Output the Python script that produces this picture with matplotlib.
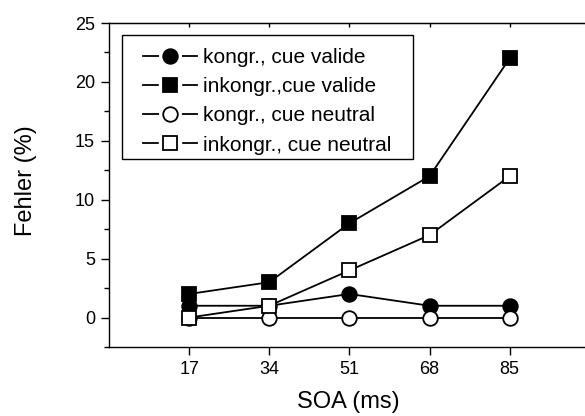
import matplotlib
matplotlib.use("Agg")
import matplotlib.pyplot as plt
from matplotlib.ticker import MultipleLocator, FixedLocator
from matplotlib.lines import Line2D
from matplotlib.patches import Rectangle
from matplotlib.legend_handler import HandlerTuple

plt.rcParams['font.family'] = ['Liberation Sans', 'DejaVu Sans']

soa = [17, 34, 51, 68, 85]
kongr_valide = [1, 1, 2, 1, 1]
inkongr_valide = [2, 3, 8, 12, 22]
kongr_neutral = [0, 0, 0, 0, 0]
inkongr_neutral = [0, 1, 4, 7, 12]
labels = ["kongr., cue valide", "inkongr.,cue valide",
          "kongr., cue neutral", "inkongr., cue neutral"]

fig = plt.figure(figsize=(5.85, 4.16), dpi=100)
ax = fig.add_axes([0.1863, 0.1659, 0.822, 0.7788])

ms = 10.5
lw = 1.3
styles = [('o', 'black'), ('s', 'black'), ('o', 'white'), ('s', 'white')]
series = [kongr_valide, inkongr_valide, kongr_neutral, inkongr_neutral]
handles = []
for (mk, fc), ys, lab in zip(styles, series, labels):
    ax.plot(soa, ys, '-', marker=mk, color='black', mfc=fc, mec='black', mew=1.3,
            ms=ms, lw=lw, clip_on=False, zorder=3)
    h_line = Line2D([], [], color='black', lw=lw)
    h_halo = Line2D([], [], ls='none', marker=mk, mfc='white', mec='white', ms=ms + 5)
    h_mark = Line2D([], [], ls='none', marker=mk, mfc=fc, mec='black', mew=1.3, ms=ms)
    handles.append((h_line, h_halo, h_mark))

ax.set_xlim(0, 102)
ax.set_ylim(-2.5, 25)
ax.xaxis.set_major_locator(FixedLocator(soa))
ax.yaxis.set_major_locator(MultipleLocator(5))
ax.yaxis.set_minor_locator(MultipleLocator(2.5))
ax.tick_params(axis='both', which='major', direction='out', length=6, width=1,
               labelsize=13, pad=4)
ax.tick_params(axis='y', which='minor', direction='out', length=3.5, width=1)

# inward ticks on top and right
secx = ax.secondary_xaxis('top')
secx.xaxis.set_major_locator(FixedLocator(soa))
secx.tick_params(direction='in', length=3, width=1, labeltop=False)
secy = ax.secondary_yaxis('right')
secy.yaxis.set_major_locator(MultipleLocator(5))
secy.tick_params(direction='in', length=3, width=1, labelright=False)

for s in ax.spines.values():
    s.set_linewidth(1)

ax.set_xlabel("SOA (ms)", fontsize=17)
ax.set_ylabel("Fehler (%)", fontsize=17)
ax.xaxis.set_label_coords(0.497, -0.136)
ax.yaxis.set_label_coords(-0.150, 0.515)

# legend frame
frame = Rectangle((0.027, 0.580), 0.605, 0.383, transform=ax.transAxes,
                  facecolor='white', edgecolor='black', lw=1, zorder=4)
ax.add_patch(frame)

leg = ax.legend(handles, labels, loc='upper left', bbox_to_anchor=(0.0707, 0.923),
                fontsize=15, frameon=False, handlelength=2.6, labelspacing=0.49,
                borderpad=0, handletextpad=0.3, borderaxespad=0,
                handler_map={tuple: HandlerTuple(ndivide=1, pad=0)})
leg.set_zorder(5)

fig.savefig("out.png", dpi=100)
